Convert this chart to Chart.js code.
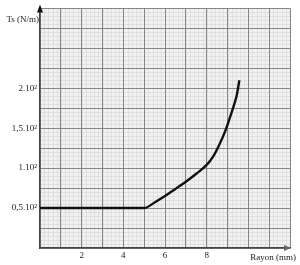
<!DOCTYPE html>
<html><head><meta charset="utf-8">
<script src="https://cdn.jsdelivr.net/npm/chart.js@4"></script>
<style>html,body{margin:0;padding:0;background:#fff}#w{width:300px;height:265px}</style>
</head><body><div id="w"><canvas id="c"></canvas></div>
<script>
const rayon = [0, 1, 2, 3, 4, 5, 5.5, 6, 6.5, 7, 7.5, 8, 8.3, 8.6, 8.9, 9.1, 9.3, 9.45, 9.57];
const tension = [50, 50, 50, 50, 50, 50, 57, 65, 74, 83, 93, 104, 114, 129, 147, 162, 178, 192, 210];
const xTickLabels = {2: '2', 4: '4', 6: '6', 8: '8'};
const yTickLabels = {50: '0,5.10²', 100: '1.10²', 150: '1,5.10²', 200: '2.10²'};
const xTitle = 'Rayon (mm)';
const yTitle = 'Ts (N/m)';
const FONT = '"Liberation Serif", "DejaVu Serif", serif';

const paper = {
  id: 'paper',
  beforeDraw(chart) {
    const {ctx, chartArea: a, scales: {x, y}} = chart;
    ctx.save();
    ctx.fillStyle = '#f1f1f1';
    ctx.fillRect(a.left, a.top, a.right - a.left, a.bottom - a.top);
    ctx.strokeStyle = '#dfdfdf';
    ctx.lineWidth = 1;
    ctx.beginPath();
    for (let v = 0; v <= 12.001; v += 0.2) {
      const px = Math.round(x.getPixelForValue(v)) + 0.5;
      ctx.moveTo(px, a.top); ctx.lineTo(px, a.bottom);
    }
    for (let v = 0; v <= 300.001; v += 5) {
      const py = Math.round(y.getPixelForValue(v)) + 0.5;
      ctx.moveTo(a.left, py); ctx.lineTo(a.right, py);
    }
    ctx.stroke();
    ctx.restore();
  },
  afterDraw(chart) {
    const {ctx, chartArea: a} = chart;
    ctx.save();
    ctx.fillStyle = '#111';
    ctx.beginPath();
    ctx.moveTo(a.left, a.top - 4);
    ctx.lineTo(a.left - 3, a.top + 4);
    ctx.lineTo(a.left + 3, a.top + 4);
    ctx.closePath(); ctx.fill();
    ctx.fillStyle = '#666';
    ctx.beginPath();
    ctx.moveTo(a.right + 1, a.bottom);
    ctx.lineTo(a.right - 6, a.bottom - 3);
    ctx.lineTo(a.right - 6, a.bottom + 3);
    ctx.closePath(); ctx.fill();
    ctx.fillStyle = '#222';
    ctx.font = '9px ' + FONT;
    ctx.textAlign = 'right';
    ctx.textBaseline = 'middle';
    ctx.fillText(yTitle, a.left - 1, a.top + 11);
    ctx.textBaseline = 'top';
    ctx.fillText(xTitle, a.right + 6, a.bottom + 5);
    ctx.restore();
  }
};

new Chart(document.getElementById('c'), {
  type: 'line',
  data: {
    datasets: [{
      data: rayon.map((r, i) => ({x: r, y: tension[i]})),
      borderColor: '#111',
      borderWidth: 2.4,
      pointRadius: 0,
      cubicInterpolationMode: 'monotone',
      fill: false
    }]
  },
  plugins: [paper],
  options: {
    responsive: true,
    maintainAspectRatio: false,
    animation: false,
    devicePixelRatio: 1,
    layout: {padding: {top: 8, right: 10, left: 0, bottom: 0}},
    plugins: {legend: {display: false}, tooltip: {enabled: false}},
    scales: {
      x: {
        type: 'linear', min: 0, max: 12,
        afterFit(s) { s.height = 17; },
        ticks: {
          stepSize: 1, autoSkip: false, maxRotation: 0, padding: 2,
          color: '#222', font: {family: FONT, size: 9},
          callback: v => xTickLabels[v] || ''
        },
        grid: {color: '#858585', lineWidth: 1, drawTicks: false},
        border: {color: '#444', width: 1.5}
      },
      y: {
        type: 'linear', min: 0, max: 300,
        afterFit(s) { s.width = 40; },
        ticks: {
          stepSize: 25, autoSkip: false, padding: 3,
          color: '#222', font: {family: FONT, size: 9},
          callback: v => yTickLabels[v] || ''
        },
        grid: {color: '#858585', lineWidth: 1, drawTicks: false},
        border: {color: '#444', width: 1.5}
      }
    }
  }
});
</script></body></html>
